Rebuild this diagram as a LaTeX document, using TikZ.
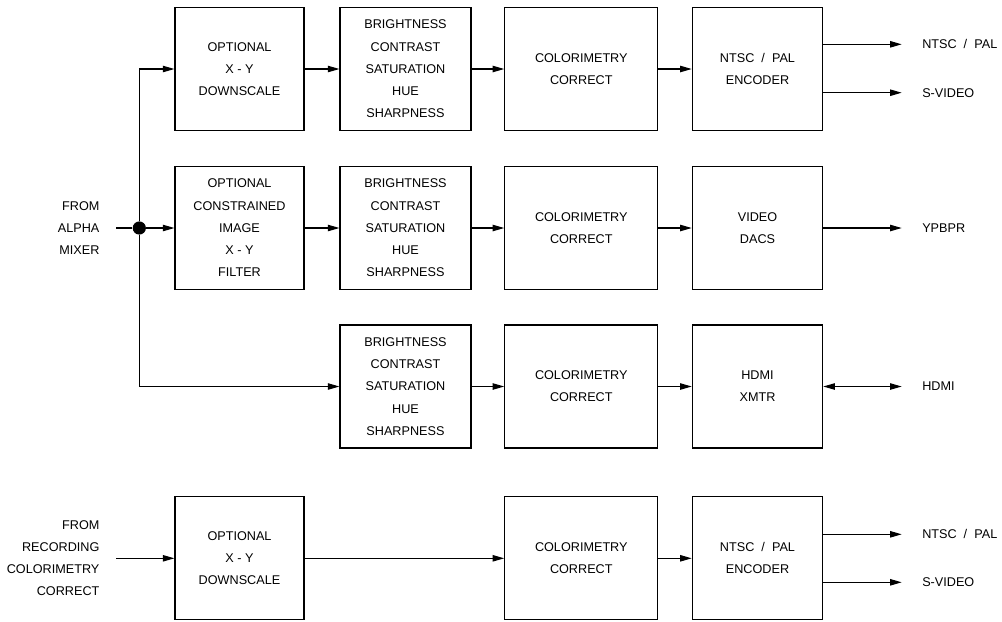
\documentclass[tikz,border=0pt]{standalone}
\usepackage{fontspec}
\setmainfont{Liberation Sans}
\usepackage{tikz}
\usetikzlibrary{arrows.meta,positioning}

\begin{document}
\begin{tikzpicture}[x=0.025cm,y=-0.025cm,
  font=\fontsize{9}{15.8}\selectfont,
  line width=0.8pt,
  >={Triangle[length=2.9mm,width=1.6mm]},
  blk/.style={draw,align=center,minimum height=3.075cm,inner sep=0pt},
  colA/.style={blk,minimum width=3.225cm},
  colB/.style={blk,minimum width=3.275cm},
  colC/.style={blk,minimum width=3.825cm},
  colD/.style={blk,minimum width=3.26cm},
  inlbl/.style={anchor=east,align=right,inner xsep=0.4cm,inner ysep=0pt},
  outlbl/.style={anchor=west,inner xsep=0.5cm,inner ysep=0pt}]
  \useasboundingbox (0,0) rectangle (1002,621);

  % upper path: downscale to encoder
  \node[colA] (dscaleA) at (239.5,69) {OPTIONAL\\X - Y\\DOWNSCALE};
  \node[colB] (bcsA) at (405.5,69) {BRIGHTNESS\\CONTRAST\\SATURATION\\HUE\\SHARPNESS};
  \node[colC] (ccA) at (581.3,69) {COLORIMETRY\\CORRECT};
  \node[colD] (encA) at (757.5,69) {NTSC~~/~~PAL\\ENCODER};
  \node[outlbl] (ntscA) at (901.7,44.3) {NTSC~~/~~PAL};
  \node[outlbl] (svidA) at (901.7,92.7) {S-VIDEO};
  \draw[->] (dscaleA) -- (bcsA);
  \draw[->] (bcsA) -- (ccA);
  \draw[->] (ccA) -- (encA);
  \draw[->] (encA.east |- ntscA) -- (ntscA);
  \draw[->] (encA.east |- svidA) -- (svidA);

  % component path
  \node[colA] (filtB) at (239.5,228) {OPTIONAL\\CONSTRAINED\\IMAGE\\X - Y\\FILTER};
  \node[colB] (bcsB) at (405.5,228) {BRIGHTNESS\\CONTRAST\\SATURATION\\HUE\\SHARPNESS};
  \node[colC] (ccB) at (581.3,228) {COLORIMETRY\\CORRECT};
  \node[colD] (dacB) at (757.5,228) {VIDEO\\DACS};
  \node[outlbl] (ypbpr) at (901.7,228) {YPBPR};
  \draw[->] (filtB) -- (bcsB);
  \draw[->] (bcsB) -- (ccB);
  \draw[->] (ccB) -- (dacB);
  \draw[->] (dacB) -- (ypbpr);

  % hdmi path
  \node[colB] (bcsC) at (405.5,386.5) {BRIGHTNESS\\CONTRAST\\SATURATION\\HUE\\SHARPNESS};
  \node[colC] (ccC) at (581.3,386.5) {COLORIMETRY\\CORRECT};
  \node[colD] (hdmiC) at (757.5,386.5) {HDMI\\XMTR};
  \node[outlbl] (hdmiout) at (901.7,386.5) {HDMI};
  \draw[->] (bcsC) -- (ccC);
  \draw[->] (ccC) -- (hdmiC);
  \draw[<->] (hdmiC) -- (hdmiout);

  % input from alpha mixer, split three ways
  \node[inlbl] (alpha) at (116,228) {FROM\\ALPHA\\MIXER};
  \node[circle,fill,inner sep=0pt,minimum size=0.33cm] (split) at (139.3,228) {};
  \draw (alpha) -- (split);
  \draw[->] (split) -- (filtB);
  \draw[->] (split) |- (dscaleA);
  \draw[->] (split) |- (bcsC);

  % recording path
  \node[inlbl] (rec) at (116,558.3) {FROM\\RECORDING\\COLORIMETRY\\CORRECT};
  \node[colA] (dscaleD) at (239.5,558.3) {OPTIONAL\\X - Y\\DOWNSCALE};
  \node[colC] (ccD) at (581.3,558.3) {COLORIMETRY\\CORRECT};
  \node[colD] (encD) at (757.5,558.3) {NTSC~~/~~PAL\\ENCODER};
  \node[outlbl] (ntscD) at (901.7,534.3) {NTSC~~/~~PAL};
  \node[outlbl] (svidD) at (901.7,582.3) {S-VIDEO};
  \draw[->] (rec) -- (dscaleD);
  \draw[->] (dscaleD) -- (ccD);
  \draw[->] (ccD) -- (encD);
  \draw[->] (encD.east |- ntscD) -- (ntscD);
  \draw[->] (encD.east |- svidD) -- (svidD);
\end{tikzpicture}
\end{document}
